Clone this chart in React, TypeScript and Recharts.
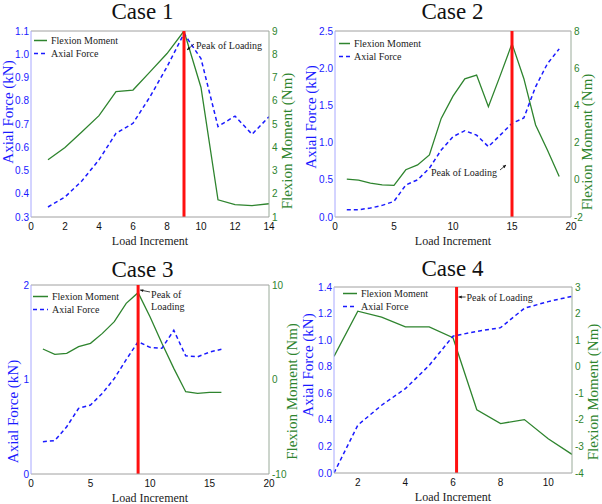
import React from 'react';
import { LineChart, Line, XAxis, YAxis, ReferenceLine, Legend } from 'recharts';

// Case 1
const case1Load = [1, 2, 3, 4, 5, 6, 7, 8, 9, 10, 11, 12, 13, 14];
const case1Axial = [0.343, 0.386, 0.456, 0.546, 0.66, 0.703, 0.817, 0.946, 1.089, 0.981, 0.689, 0.734, 0.656, 0.731];
const case1Flexion = [3.46, 3.99, 4.67, 5.36, 6.39, 6.46, 7.24, 8.03, 9.0, 6.57, 1.74, 1.53, 1.49, 1.57];
const case1XTicks = [0, 2, 4, 6, 8, 10, 12, 14];
const case1LeftTicks = [0.3, 0.4, 0.5, 0.6, 0.7, 0.8, 0.9, 1.0, 1.1];
const case1RightTicks = [1, 2, 3, 4, 5, 6, 7, 8, 9];

// Case 2
const case2Load = [1, 2, 3, 4, 5, 6, 7, 8, 9, 10, 11, 12, 13, 14, 15, 16, 17, 18, 19];
const case2Axial = [0.098, 0.098, 0.12, 0.156, 0.21, 0.43, 0.5, 0.656, 0.9, 1.08, 1.16, 1.1, 0.946, 1.1, 1.26, 1.33, 1.75, 2.06, 2.26];
const case2Flexion = [0.04, -0.02, -0.18, -0.27, -0.3, 0.54, 0.8, 1.34, 3.3, 4.5, 5.43, 5.63, 3.93, 5.6, 7.32, 5.45, 2.95, 1.6, 0.18];
const case2XTicks = [0, 5, 10, 15, 20];
const case2LeftTicks = [0, 0.5, 1.0, 1.5, 2.0, 2.5];
const case2RightTicks = [-2, 0, 2, 4, 6, 8];

// Case 3
const case3Load = [1, 2, 3, 4, 5, 6, 7, 8, 9, 10, 11, 12, 13, 14, 15, 16];
const case3Axial = [0.342, 0.353, 0.5, 0.695, 0.73, 0.854, 1.01, 1.21, 1.4, 1.34, 1.33, 1.52, 1.25, 1.24, 1.29, 1.32];
const case3Flexion = [3.23, 2.66, 2.77, 3.47, 3.83, 4.88, 6.12, 8.06, 9.19, 6.65, 3.83, 1.18, -1.29, -1.46, -1.36, -1.36];
const case3XTicks = [0, 5, 10, 15, 20];
const case3LeftTicks = [0, 1, 2];
const case3RightTicks = [-10, 0, 10];

// Case 4
const case4Load = [1, 2, 3, 4, 5, 6, 7, 8, 9, 10, 11];
const case4Axial = [0.0, 0.36, 0.51, 0.635, 0.81, 1.03, 1.066, 1.094, 1.24, 1.29, 1.33];
const case4Flexion = [0.39, 2.09, 1.87, 1.5, 1.5, 1.09, -1.62, -2.14, -1.99, -2.71, -3.3];
const case4XTicks = [2, 4, 6, 8, 10];
const case4LeftTicks = [0, 0.2, 0.4, 0.6, 0.8, 1.0, 1.2, 1.4];
const case4RightTicks = [-4, -3, -2, -1, 0, 1, 2, 3];

const peaks = [9, 15, 9, 6.15];
const legendOrder = ['Flexion Moment', 'Axial Force'];

const GREEN = '#2e842e';
const BLUE = '#1a1aff';
const RED = '#ff1010';
const SERIF = '"Liberation Serif", "Times New Roman", serif';
const SANS = '"Liberation Sans", Arial, sans-serif';

const rows = (load: number[], axial: number[], flexion: number[]) =>
  load.map((x, i) => ({ load: x, axial: axial[i], flexion: flexion[i] }));

const yTitle = (text: string, color: string, dx: number, dy: number) => ({
  content: (p: any) => {
    const vb = p.viewBox || { x: 0, y: 0, width: 0, height: 0 };
    const cx = vb.x + dx;
    const cy = vb.y + vb.height / 2 + dy;
    return (
      <text x={cx} y={cy} transform={`rotate(-90 ${cx} ${cy})`} textAnchor="middle"
        dominantBaseline="central" fill={color} fontFamily={SERIF} fontSize={15}>
        {text}
      </text>
    );
  },
});

const xTitle = (dy: number) => ({
  content: (p: any) => {
    const vb = p.viewBox || { x: 0, y: 0, width: 0, height: 0 };
    return (
      <text x={vb.x + vb.width / 2} y={vb.y + dy} textAnchor="middle" fill="#222"
        fontFamily={SERIF} fontSize={12}>
        Load Increment
      </text>
    );
  },
});

function Arrow({ x1, y1, x2, y2 }: { x1: number; y1: number; x2: number; y2: number }) {
  const a = Math.atan2(y2 - y1, x2 - x1);
  const h = 3.5;
  const p1 = [x2 - h * Math.cos(a - 0.45), y2 - h * Math.sin(a - 0.45)];
  const p2 = [x2 - h * Math.cos(a + 0.45), y2 - h * Math.sin(a + 0.45)];
  return (
    <g>
      <line x1={x1} y1={y1} x2={x2} y2={y2} stroke="#111" strokeWidth={0.8} />
      <polygon points={`${x2},${y2} ${p1[0]},${p1[1]} ${p2[0]},${p2[1]}`} fill="#111" />
    </g>
  );
}

const noteStyle = { fontFamily: SERIF, fontSize: 10, fill: '#222' };

const notes = [
  (x: number, t: number) => (
    <g>
      <Arrow x1={x + 10} y1={t + 13} x2={x + 3} y2={t + 19} />
      <text x={x + 12} y={t + 14} dominantBaseline="central" {...noteStyle}>Peak of Loading</text>
    </g>
  ),
  (x: number, t: number) => (
    <g>
      <Arrow x1={x - 12} y1={t + 139} x2={x - 6} y2={t + 134} />
      <text x={x - 15} y={t + 141} textAnchor="end" dominantBaseline="central" {...noteStyle}>Peak of Loading</text>
    </g>
  ),
  (x: number, t: number) => (
    <g>
      <Arrow x1={x + 12} y1={t + 7} x2={x + 2} y2={t + 5} />
      <text x={x + 13} y={t + 9} dominantBaseline="central" {...noteStyle}>Peak of</text>
      <text x={x + 13} y={t + 21} dominantBaseline="central" {...noteStyle}>Loading</text>
    </g>
  ),
  (x: number, t: number) => (
    <g>
      <Arrow x1={x + 9} y1={t + 10} x2={x + 2} y2={t + 10} />
      <text x={x + 10} y={t + 10} dominantBaseline="central" {...noteStyle}>Peak of Loading</text>
    </g>
  ),
];

const legendContent = (sw: number) => (p: any) => {
  const items = [...(p.payload || [])].sort(
    (a: any, b: any) => legendOrder.indexOf(a.value) - legendOrder.indexOf(b.value));
  return (
    <div style={{ fontFamily: SERIF, fontSize: 10, lineHeight: '13px', color: '#222' }}>
      {items.map((e: any) => (
        <div key={e.value} style={{ display: 'flex', alignItems: 'center', height: 13, whiteSpace: 'nowrap' }}>
          <svg width={sw} height={13}>
            <line x1={0} x2={sw} y1={6.5} y2={6.5} stroke={e.color} strokeWidth={1.5}
              strokeDasharray={e.value === 'Axial Force' ? '4 3' : undefined} />
          </svg>
          <span style={{ marginLeft: 4 }}>{e.value}</span>
        </div>
      ))}
    </div>
  );
};

type PanelProps = {
  idx: number;
  title: string;
  left: number;
  top: number;
  width: number;
  height: number;
  plotTop: number;
  lw: number;
  rw: number;
  xh: number;
  titleX: number;
  titleY: number;
  data: { load: number; axial: number; flexion: number }[];
  xDomain: [number, number];
  xTicks: number[];
  leftDomain: [number, number];
  leftTicks: number[];
  leftFmt: (v: number) => string;
  rightDomain: [number, number];
  rightTicks: number[];
  yl: [number, number];
  yr: [number, number];
  legend: [number, number, number];
};

function Panel(p: PanelProps) {
  const peak = peaks[p.idx];
  return (
    <div style={{ position: 'absolute', left: p.left, top: p.top, width: p.width, height: p.height }}>
      <div style={{ position: 'absolute', left: p.titleX - 60, width: 120, top: Math.max(0, p.titleY - 19.3), textAlign: 'center',
        fontFamily: SERIF, fontSize: 23, lineHeight: 1, color: '#111' }}>
        {p.title}
      </div>
      <LineChart width={p.width} height={p.height} data={p.data}
        margin={{ top: p.plotTop, right: 0, bottom: 0, left: 0 }}>
        <XAxis dataKey="load" type="number" domain={p.xDomain} ticks={p.xTicks} interval={0}
          allowDataOverflow height={p.xh} stroke="#a0a0a0" tickLine={false} tickSize={3} tickMargin={3}
          tick={{ fill: '#111', fontSize: 10, fontFamily: SANS }} label={xTitle(27.5)} />
        <YAxis yAxisId="L" domain={p.leftDomain} ticks={p.leftTicks} interval={0} allowDataOverflow
          width={p.lw} stroke="#a8a8ff" tickLine={false} tickSize={0} tickMargin={2}
          tickFormatter={p.leftFmt} tick={{ fill: BLUE, fontSize: 10, fontFamily: SANS }}
          label={yTitle('Axial Force (kN)', BLUE, p.yl[0], p.yl[1])} />
        <YAxis yAxisId="R" orientation="right" domain={p.rightDomain} ticks={p.rightTicks} interval={0}
          allowDataOverflow width={p.rw} stroke="#9aab9a" tickLine={false} tickSize={0} tickMargin={3}
          tick={{ fill: GREEN, fontSize: 10, fontFamily: SANS }}
          label={yTitle('Flexion Moment (Nm)', GREEN, p.yr[0], p.yr[1])} />
        <ReferenceLine yAxisId="L" y={p.leftDomain[1]} stroke="#a0a0a0" />
        <Legend layout="horizontal" verticalAlign="middle" align="center"
          wrapperStyle={{ left: p.legend[0], top: p.legend[1], width: 'auto', height: 'auto' }}
          content={legendContent(p.legend[2])} />
        <Line yAxisId="R" dataKey="flexion" name="Flexion Moment" type="linear" stroke={GREEN}
          strokeWidth={1.3} dot={false} isAnimationActive={false} />
        <Line yAxisId="L" dataKey="axial" name="Axial Force" type="linear" stroke={BLUE}
          strokeWidth={1.5} strokeDasharray="4 3" dot={false} isAnimationActive={false} />
        <ReferenceLine yAxisId="L" x={peak} stroke={RED} strokeWidth={3}
          label={{ content: (lp: any) => {
            const vb = lp.viewBox || { x: 0, y: 0 };
            return notes[p.idx](vb.x, vb.y);
          } }} />
      </LineChart>
    </div>
  );
}

const f1 = (v: number) => v.toFixed(1);
const f0 = (v: number) => String(v);

export default function App() {
  return (
    <div style={{ position: 'absolute', left: 0, top: 0, width: 602, height: 504, background: '#fff' }}>
      <Panel idx={0} title="Case 1" left={0} top={0} width={300} height={250} plotTop={31} lw={31} rw={31} xh={33}
        titleX={142.5} titleY={17} data={rows(case1Load, case1Axial, case1Flexion)} xDomain={[0, 14]}
        xTicks={case1XTicks} leftDomain={[0.3, 1.1]} leftTicks={case1LeftTicks} leftFmt={f1}
        rightDomain={[1, 9]} rightTicks={case1RightTicks} yl={[8, -12]} yr={[18, 17]} legend={[34, 33.5, 13]} />
      <Panel idx={1} title="Case 2" left={300} top={0} width={302} height={250} plotTop={31} lw={35} rw={31} xh={33}
        titleX={152.5} titleY={17} data={rows(case2Load, case2Axial, case2Flexion)} xDomain={[0, 20]}
        xTicks={case2XTicks} leftDomain={[0, 2.5]} leftTicks={case2LeftTicks} leftFmt={f1}
        rightDomain={[-2, 8]} rightTicks={case2RightTicks} yl={[11, -7]} yr={[16, 18]} legend={[39, 36.5, 11]} />
      <Panel idx={2} title="Case 3" left={0} top={250} width={300} height={254} plotTop={35} lw={31} rw={31} xh={30}
        titleX={142.5} titleY={27} data={rows(case3Load, case3Axial, case3Flexion)} xDomain={[0, 20]}
        xTicks={case3XTicks} leftDomain={[0, 2]} leftTicks={case3LeftTicks} leftFmt={f0}
        rightDomain={[-10, 10]} rightTicks={case3RightTicks} yl={[13, 32]} yr={[23, 12]} legend={[33, 39.5, 15]} />
      <Panel idx={3} title="Case 4" left={300} top={250} width={302} height={254} plotTop={37} lw={34} rw={30} xh={31}
        titleX={152.5} titleY={26} data={rows(case4Load, case4Axial, case4Flexion)} xDomain={[1, 11]}
        xTicks={case4XTicks} leftDomain={[0, 1.4]} leftTicks={case4LeftTicks} leftFmt={f1}
        rightDomain={[-4, 3]} rightTicks={case4RightTicks} yl={[8, -15]} yr={[21, 12]} legend={[43, 36.5, 14]} />
    </div>
  );
}
